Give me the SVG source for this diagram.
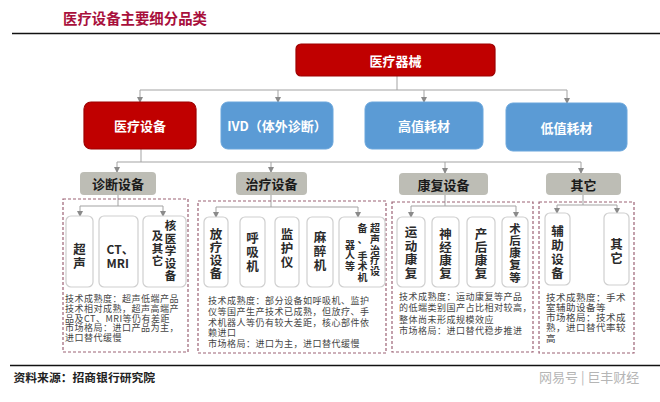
<svg xmlns="http://www.w3.org/2000/svg" width="660" height="402" viewBox="0 0 660 402">
<style>
text{font-family:"Noto Sans CJK SC","Noto Sans",sans-serif}
.red{fill:#c00000;stroke:#9e0000;stroke-width:1.2}
.blue{fill:#5b9bd5;stroke:#6aa6dc;stroke-width:1}
.gray{fill:#bdbdb5}
.sub{fill:#fff;stroke:#cfcfcf;stroke-width:1.2}
.dash{fill:none;stroke:#9c6275;stroke-width:1.2;stroke-dasharray:3 2}
.wt{fill:#fff;font-size:13px;font-weight:bold;text-anchor:middle;dominant-baseline:central}
.gt{fill:#1a1a1a;font-size:13px;font-weight:bold;text-anchor:middle;dominant-baseline:central}
.st{fill:#2a2a2a;font-size:12.5px;font-weight:bold;text-anchor:middle;dominant-baseline:central}
.sm{fill:#2a2a2a;font-size:10px;font-weight:bold;text-anchor:middle;dominant-baseline:central}
.ds{fill:#444;font-size:9px;letter-spacing:0.5px}
.conn path{fill:none;stroke:#a3a3a3;stroke-width:1}
</style>
<defs>
<marker id="arr" markerWidth="6" markerHeight="6" refX="5" refY="3" orient="auto" markerUnits="userSpaceOnUse">
<path d="M0,0 L6,3 L0,6 z" fill="#8a8a8a"/>
</marker>
</defs>
<rect width="660" height="402" fill="#fff"/>

<g id="title">
<text x="63" y="24" style="fill:#a8103c;font-size:14.4px;font-weight:bold">医疗设备主要细分品类</text>
<line x1="12" y1="33.5" x2="660" y2="33.5" stroke="#111" stroke-width="1.6"/>
</g>

<g class="conn">
<path d="M397,76 V90 M140,90 H567"/>
<path d="M140,90 V102" marker-end="url(#arr)"/>
<path d="M278,90 V102" marker-end="url(#arr)"/>
<path d="M424,90 V102" marker-end="url(#arr)"/>
<path d="M567,90 V103" marker-end="url(#arr)"/>
<path d="M141,149 V162 M117,162 H581"/>
<path d="M117,162 V172" marker-end="url(#arr)"/>
<path d="M271,162 V172" marker-end="url(#arr)"/>
<path d="M445,162 V173" marker-end="url(#arr)"/>
<path d="M581,162 V173" marker-end="url(#arr)"/>
<path d="M118,195 V206 M80,206 H163"/>
<path d="M80,206 V216" marker-end="url(#arr)"/>
<path d="M163,206 V216" marker-end="url(#arr)"/>
<path d="M271,195 V207 M216,207 H358"/>
<path d="M216,207 V217" marker-end="url(#arr)"/>
<path d="M358,207 V217" marker-end="url(#arr)"/>
<path d="M445,195 V206 M411,206 H516"/>
<path d="M411,206 V217" marker-end="url(#arr)"/>
<path d="M516,206 V217" marker-end="url(#arr)"/>
<path d="M583,195 V205 M557,205 H617"/>
<path d="M557,205 V213" marker-end="url(#arr)"/>
<path d="M617,205 V213" marker-end="url(#arr)"/>
</g>

<g id="n-root"><rect class="red" x="296" y="44" width="199" height="32" rx="5"/><text class="wt" x="395.5" y="60">医疗器械</text></g>
<g id="n-equip"><rect class="red" x="84" y="102" width="112" height="47" rx="7"/><text class="wt" x="140" y="125.5">医疗设备</text></g>
<g id="n-ivd"><rect class="blue" x="221" y="102" width="112" height="47" rx="7"/><text class="wt" x="277" y="125.5">IVD（体外诊断）</text></g>
<g id="n-high"><rect class="blue" x="365" y="102" width="118" height="47" rx="7"/><text class="wt" x="424" y="125.5">高值耗材</text></g>
<g id="n-low"><rect class="blue" x="506" y="103" width="121" height="48" rx="7"/><text class="wt" x="566.5" y="127">低值耗材</text></g>

<g id="n-diag"><rect class="gray" x="80" y="172" width="76" height="23" rx="4"/><text class="gt" x="118" y="183.5">诊断设备</text></g>
<g id="n-treat"><rect class="gray" x="236" y="172" width="71" height="23" rx="4"/><text class="gt" x="271.5" y="183.5">治疗设备</text></g>
<g id="n-rehab"><rect class="gray" x="399" y="173" width="89" height="22" rx="4"/><text class="gt" x="443.5" y="184">康复设备</text></g>
<g id="n-other"><rect class="gray" x="546" y="173" width="75" height="22" rx="4"/><text class="gt" x="583.5" y="184">其它</text></g>

<g id="c-diag">
<rect class="dash" x="63" y="199" width="125" height="153"/>
<g id="n-us"><rect class="sub" x="66" y="216" width="27" height="71" rx="5"/>
<text class="st"><tspan x="79.5" y="248">超</tspan><tspan x="79.5" y="262">声</tspan></text></g>
<g id="n-ct"><rect class="sub" x="99" y="216" width="39" height="71" rx="5"/>
<text style="fill:#2a2a2a;font-size:12px;font-weight:bold"><tspan x="106.5" y="254">CT、</tspan><tspan x="106.5" y="268">MRI</tspan></text></g>
<g id="n-nuc"><rect class="sub" x="143" y="216" width="43" height="71" rx="5"/>
<text class="st" style="font-size:11.5px"><tspan x="170.5" y="225">核</tspan><tspan x="170.5" y="237.5">医</tspan><tspan x="170.5" y="250">学</tspan><tspan x="170.5" y="262.5">设</tspan><tspan x="170.5" y="275">备</tspan><tspan x="157.5" y="235">及</tspan><tspan x="157.5" y="247.5">其</tspan><tspan x="157.5" y="260">它</tspan></text></g>
<text class="ds"><tspan x="65" y="302">技术成熟度：超声低端产品</tspan><tspan x="65" y="311.8">技术相对成熟，超声高端产</tspan><tspan x="65" y="321.6">品及CT、MRI等仍有差距</tspan><tspan x="65" y="331.4">市场格局：进口产品为主，</tspan><tspan x="65" y="341.2">进口替代缓慢</tspan></text>
</g>

<g id="c-treat">
<rect class="dash" x="198" y="201" width="188" height="152"/>
<g id="n-radio"><rect class="sub" x="204" y="217" width="24" height="70" rx="5"/>
<text class="st"><tspan x="216" y="233">放</tspan><tspan x="216" y="246">疗</tspan><tspan x="216" y="259">设</tspan><tspan x="216" y="272">备</tspan></text></g>
<g id="n-vent"><rect class="sub" x="240" y="217" width="25" height="70" rx="5"/>
<text class="st"><tspan x="252.5" y="237">呼</tspan><tspan x="252.5" y="251">吸</tspan><tspan x="252.5" y="265">机</tspan></text></g>
<g id="n-mon"><rect class="sub" x="275" y="217" width="24" height="70" rx="5"/>
<text class="st"><tspan x="287" y="233">监</tspan><tspan x="287" y="247">护</tspan><tspan x="287" y="261">仪</tspan></text></g>
<g id="n-anes"><rect class="sub" x="307" y="217" width="26" height="70" rx="5"/>
<text class="st"><tspan x="320" y="236">麻</tspan><tspan x="320" y="250">醉</tspan><tspan x="320" y="264">机</tspan></text></g>
<g id="n-robot"><rect class="sub" x="339" y="217" width="46" height="70" rx="5"/>
<text class="sm"><tspan x="375" y="227">超</tspan><tspan x="375" y="237.8">声</tspan><tspan x="375" y="248.6">治</tspan><tspan x="375" y="259.4">疗</tspan><tspan x="375" y="270.2">设</tspan><tspan x="362.5" y="227">备</tspan><tspan x="362.5" y="237.5">、</tspan><tspan x="362.5" y="254.5">手</tspan><tspan x="362.5" y="265.3">术</tspan><tspan x="362.5" y="276.1">机</tspan><tspan x="350" y="243.5">器</tspan><tspan x="350" y="254.3">人</tspan><tspan x="350" y="265.1">等</tspan></text></g>
<text class="ds"><tspan x="208" y="303.5">技术成熟度：部分设备如呼吸机、监护</tspan><tspan x="208" y="314.5">仪等国产生产技术已成熟，但放疗、手</tspan><tspan x="208" y="325.5">术机器人等仍有较大差距，核心部件依</tspan><tspan x="208" y="336">赖进口</tspan><tspan x="208" y="346.8">市场格局：进口为主，进口替代缓慢</tspan></text>
</g>

<g id="c-rehab">
<rect class="dash" x="392" y="202" width="141" height="150"/>
<g id="n-sport"><rect class="sub" x="397" y="217" width="28" height="70" rx="5"/>
<text class="st"><tspan x="411" y="231">运</tspan><tspan x="411" y="244.5">动</tspan><tspan x="411" y="258">康</tspan><tspan x="411" y="271.5">复</tspan></text></g>
<g id="n-neuro"><rect class="sub" x="432" y="217" width="27" height="70" rx="5"/>
<text class="st"><tspan x="445.5" y="233">神</tspan><tspan x="445.5" y="246">经</tspan><tspan x="445.5" y="259">康</tspan><tspan x="445.5" y="272">复</tspan></text></g>
<g id="n-post"><rect class="sub" x="467" y="217" width="28" height="70" rx="5"/>
<text class="st"><tspan x="481" y="233">产</tspan><tspan x="481" y="246">后</tspan><tspan x="481" y="259">康</tspan><tspan x="481" y="272">复</tspan></text></g>
<g id="n-surg"><rect class="sub" x="502" y="217" width="26" height="70" rx="5"/>
<text class="st" style="font-size:11.5px"><tspan x="515" y="227.5">术</tspan><tspan x="515" y="239.8">后</tspan><tspan x="515" y="252.1">康</tspan><tspan x="515" y="264.4">复</tspan><tspan x="515" y="276.7">等</tspan></text></g>
<text class="ds"><tspan x="399" y="299.5">技术成熟度：运动康复等产品</tspan><tspan x="399" y="311">的低端类别国产占比相对较高，</tspan><tspan x="399" y="322.5">整体尚未形成规模效应</tspan><tspan x="399" y="334">市场格局：进口替代稳步推进</tspan></text>
</g>

<g id="c-other">
<rect class="dash" x="539" y="202" width="95" height="151"/>
<g id="n-aux"><rect class="sub" x="545" y="213" width="25" height="72" rx="5"/>
<text class="st"><tspan x="557.5" y="230">辅</tspan><tspan x="557.5" y="244">助</tspan><tspan x="557.5" y="258">设</tspan><tspan x="557.5" y="272">备</tspan></text></g>
<g id="n-oth"><rect class="sub" x="604" y="213" width="25" height="72" rx="5"/>
<text class="st"><tspan x="616.5" y="243">其</tspan><tspan x="616.5" y="257">它</tspan></text></g>
<text class="ds" style="font-size:9.5px"><tspan x="546" y="300.5">技术成熟度：手术</tspan><tspan x="546" y="310.8">室辅助设备等</tspan><tspan x="546" y="321.1">市场格局：技术成</tspan><tspan x="546" y="331.4">熟，进口替代率较</tspan><tspan x="546" y="341.7">高</tspan></text>
</g>

<g id="footer">
<line x1="10" y1="365.5" x2="660" y2="365.5" stroke="#111" stroke-width="1.6"/>
<text x="13.5" y="381.5" style="fill:#222;font-size:11.8px;font-weight:bold">资料来源：招商银行研究院</text>
<text x="539" y="382" style="fill:#b5b5b5;font-size:13px">网易号 | 巨丰财经</text>
</g>
</svg>
